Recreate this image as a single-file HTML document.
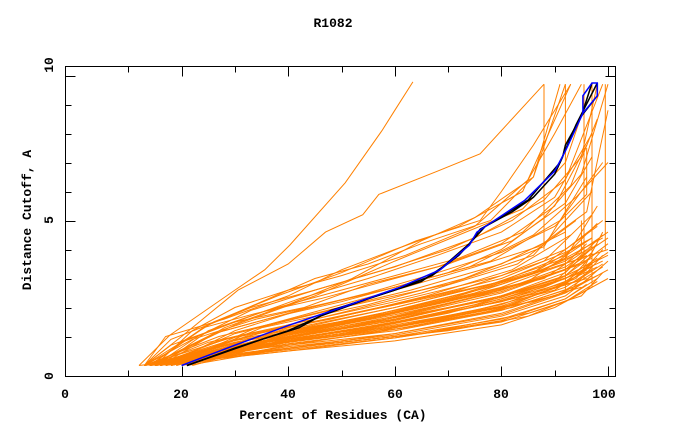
<!DOCTYPE html>
<html><head><meta charset="utf-8"><style>
html,body{margin:0;padding:0;background:#fff;}
svg{display:block;font-family:"Liberation Mono",monospace;font-weight:bold;}
</style></head><body>
<svg id="chart" width="680" height="440" viewBox="0 0 680 440" xmlns="http://www.w3.org/2000/svg">
<text x="333" y="27" font-size="13" text-anchor="middle">R1082</text>
<text x="333" y="419" font-size="13" text-anchor="middle">Percent of Residues (CA)</text>
<text transform="translate(31,220) rotate(-90)" font-size="13" text-anchor="middle">Distance Cutoff, A</text>
<g id="series"></g>
<rect x="65.5" y="66.5" width="550" height="310" fill="none" stroke="#000" stroke-width="1"/>
<g id="axes"></g>
</svg>
<script>
const xTickValues = [10,20,30,40,50,60,70,80,90,100];
const xTickLabels = ["0","20","40","60","80","100"];
const yTickValues = [1,2,3,4,5,6,7,8,9,10];
const yTickLabels = ["0","5","10"];
const orangeSeries = [
[14,0,40,0.5,60,0.85,80,1.4,90,2.0,97,2.7,97,3.6],
[15,0,40,0.6,60,1.0,80,1.6,92,2.3,98,3.0],
[13,0,35,0.6,60,1.1,80,1.8,93,2.6,99,3.8],
[16,0,30,0.5,55,1.1,75,1.9,90,2.6,96,3.3],
[14,0,30,0.6,50,1.1,70,1.8,88,2.7,97,3.4],
[17,0,35,0.8,55,1.3,75,2.1,90,2.9,98,4.2],
[13,0,30,0.7,50,1.3,70,2.0,85,2.6,95,3.2,99,4.6],
[18,0,40,1.0,60,1.6,80,2.4,92,3.1,97,3.9],
[15,0,30,0.8,50,1.4,70,2.2,88,3.0,96,4.0],
[20,0,40,1.0,60,1.7,80,2.6,95,3.5,100,4.2],
[14,0,28,0.8,45,1.3,65,2.0,85,2.9,97,4.4],
[22,0,40,0.9,60,1.5,80,2.2,94,2.9,99,3.5],
[16,0,30,0.9,50,1.5,70,2.3,86,3.2,98,4.8],
[13,0,30,1.0,50,1.7,68,2.4,85,3.1,95,3.9,95,5.0],
[19,0,35,0.9,55,1.6,75,2.5,90,3.4,100,4.0],
[15,0,28,0.9,48,1.6,66,2.4,82,3.3,93,4.5],
[17,0,32,1.0,52,1.8,72,2.6,88,3.6,97,5.2],
[14,0,25,0.8,45,1.6,65,2.5,83,3.5,94,5.0],
[21,0,40,1.2,60,2.0,78,2.8,92,3.7,98,5.5],
[13,0,27,1.0,45,1.8,63,2.6,80,3.5,92,4.6,92,6.0],
[16,0,30,1.1,50,2.0,70,2.8,86,3.8,97,6.0],
[18,0,35,1.3,55,2.1,73,3.0,88,4.1,96,6.5],
[14,0,26,1.1,42,1.9,60,2.7,78,3.6,91,5.0,99,7.0],
[12,0,30,0.4,50,0.8,70,1.2,85,1.7,93,2.3,100,3.0],
[15,0,45,0.7,65,1.1,85,1.8,95,2.4,99,3.2],
[17,0,40,0.8,62,1.3,82,2.0,95,2.8,100,3.6],
[13,0,32,0.7,52,1.2,72,1.9,87,2.5,96,3.0],
[20,0,38,0.8,58,1.4,77,2.1,91,2.8,98,3.4],
[16,0,34,0.8,54,1.4,74,2.3,89,3.1,97,3.7],
[14,0,30,0.8,52,1.5,72,2.4,88,3.3,99,4.4],
[15,0,36,0.7,56,1.2,76,1.8,90,2.4,98,3.1],
[18,0,42,0.9,62,1.4,82,2.1,94,3.0,99,4.0],
[13,0,28,0.6,48,1.0,68,1.6,86,2.2,95,2.7],
[16,0,38,0.9,58,1.5,78,2.3,91,3.0,100,3.8],
[14,0,33,0.9,53,1.6,73,2.5,87,3.3,96,4.3],
[14,0,40,0.55,60,0.95,80,1.5,92,2.2,98,2.9],
[15,0,40,0.65,60,1.05,80,1.7,92,2.4,97,3.1],
[16,0,40,0.75,60,1.2,80,1.9,92,2.6,99,3.4],
[13,0,40,0.8,60,1.3,80,2.0,92,2.8,96,3.6],
[17,0,40,0.85,60,1.35,80,2.1,92,2.9,100,3.9],
[18,0,40,0.9,60,1.45,80,2.3,92,3.0,98,3.7],
[14,0,40,0.95,60,1.55,80,2.4,92,3.2,97,4.1],
[15,0,40,1.05,60,1.65,80,2.5,92,3.3,99,4.5],
[19,0,40,1.1,60,1.8,80,2.7,92,3.5,96,4.2],
[16,0,40,1.15,60,1.9,80,2.8,92,3.6,100,4.6],
[13,0,40,1.25,60,2.0,80,2.9,92,3.8,98,4.9],
[17,0,40,1.3,60,2.1,80,3.0,92,3.9,97,4.4],
[14,0,40,1.4,60,2.2,80,3.1,92,4.0,99,5.0],
[20,0,40,0.7,60,1.25,80,1.95,92,2.7,97,3.3],
[21,0,40,0.6,60,1.1,80,1.75,92,2.5,100,3.3],
[15,0,40,0.5,60,0.95,80,1.55,92,2.3,96,2.8],
[16,0,40,0.9,60,1.5,80,2.2,92,3.0,99,3.6],
[13,0,40,1.0,60,1.6,80,2.35,92,3.1,98,3.9],
[18,0,40,1.2,60,1.85,80,2.6,92,3.4,100,4.4],
[14,0,40,0.8,60,1.4,80,2.05,92,2.8,97,3.5],
[17,0,40,1.05,60,1.75,80,2.55,92,3.3,96,3.8],
[13,0,18,0.9,25,1.4,33,2.0,45,2.6,60,3.4,75,4.4,88,5.7,95,7.2,98,9.7],
[14,0,20,0.8,30,1.5,42,2.3,55,3.0,68,3.8,80,4.6,90,5.8,97,8.0],
[13,0,17,1.0,28,1.6,40,2.4,50,3.3,60,4.0,72,4.8,84,6.0,93,9.7],
[15,0,22,1.2,30,2.0,40,2.6,50,3.1,62,3.8,75,4.8,85,6.4,90,8.0,95,9.7],
[13,0,20,1.0,30.6,2.6,40,3.5,47,4.6,54,5.2,57,5.9,68,6.7,76,7.3,88,9.7],
[14,0,25,1.4,35,2.2,45,3.0,55,3.5,65,4.2,78,5.0,86,6.5,92,9.7],
[15,0,23,1.0,33,1.9,45,2.6,58,3.3,70,4.0,82,5.0,92,6.4,99,9.7],
[13,0,18,0.7,30,1.5,43,2.0,55,2.8,68,3.4,80,4.2,90,5.5,96,7.6],
[16,0,25,1.2,36,1.9,48,2.5,60,3.1,72,3.7,84,4.6,93,6.2,98,8.5],
[14,0,24,1.3,34,1.8,46,2.3,58,2.9,70,3.5,82,4.3,92,5.6,97,7.2],
[13,0,22,0.9,34,1.6,46,2.1,58,2.6,70,3.2,80,4.0,88,5.1,95,6.6,100,9.7],
[15,0,26,1.1,38,1.7,50,2.2,62,2.8,74,3.4,86,4.5,94,5.8,100,7.0],
[12,0,17.8,1.05,30,2.6,35.6,3.3,40.3,4.15,50.7,6.3,57.6,8.1,60,8.8,63.4,9.78],
[14,0,30,1.4,45,2.4,60,3.6,72,4.5,84,5.4,92,7.0,97,9.7],
[16,0,28,1.3,40,2.1,52,3.0,65,4.3,75,5.1,86,6.5,91,9.7],
[13,0,26,1.5,38,2.4,50,3.2,64,4.3,76,5.0,80,6.0,86,7.6,93,9.7],
[17,0,30,1.2,42,1.9,55,2.5,68,3.2,80,3.9,90,4.8,96,5.9,96,7.5],
[18,0,34,1.3,48,2.0,62,2.7,75,3.4,87,4.1,96,5.3,100,8.8],
[88,4.0,88,9.7],
[92,2.5,92,9.7],
[95.5,3.0,95.5,9.7],
[97,2.7,97,9.7],
[99.5,4.0,99.5,9.7]
];
const blueSeries = [20,0,30,0.7,40.3,1.4,50,2.0,61,2.7,68.5,3.3,74,4.15,75.4,4.6,84.4,5.7,90,6.7,92,7.4,95.3,8.7,95.3,9.3,97,9.74,98,9.74,98,9.3,95.3,8.7];
const blackSeries = [
[21,0,30,0.6,40,1.2,46,1.7,55,2.3,65,2.9,69,3.4,74,4.2,76,4.7,82,5.3,86,5.8,90,6.6,91.5,7.2,92,7.6,95,8.6,97,9.74],
[21,0,35,0.9,42,1.3,48,1.9,60,2.6,67,3.1,72,3.8,77,4.8,85,5.7,91,7.0,94,8.3,98,9.74,98,9.3,95,8.6]
];
const NS = "http://www.w3.org/2000/svg";
function xScale(v){return 75 + 5.33*v;}
function yScale(v){return 365.5 - 29*v;}
function pts(arr){let s=[];for(let i=0;i<arr.length;i+=2)s.push(xScale(arr[i]).toFixed(1)+","+yScale(arr[i+1]).toFixed(1));return s.join(" ");}
const g = document.getElementById("series");
orangeSeries.forEach(function(arr){
  const p = document.createElementNS(NS,"polyline");
  p.setAttribute("points",pts(arr));
  p.setAttribute("fill","none");p.setAttribute("stroke","#ff8000");p.setAttribute("stroke-width","1");
  
  
  g.appendChild(p);
});
blackSeries.forEach(function(arr){
  const p = document.createElementNS(NS,"polyline");
  p.setAttribute("points",pts(arr));
  p.setAttribute("fill","none");p.setAttribute("stroke","#000");p.setAttribute("stroke-width","1.5");
  
  
  g.appendChild(p);
});
(function(){
  const p = document.createElementNS(NS,"polyline");
  p.setAttribute("points",pts(blueSeries));
  p.setAttribute("fill","none");p.setAttribute("stroke","#0000ff");p.setAttribute("stroke-width","1.5");
  
  
  g.appendChild(p);
})();
const ax = document.getElementById("axes");
function line(x1,y1,x2,y2,name){
  const l=document.createElementNS(NS,"line");
  l.setAttribute("x1",x1);l.setAttribute("y1",y1);l.setAttribute("x2",x2);l.setAttribute("y2",y2);
  l.setAttribute("stroke","#000");l.setAttribute("stroke-width","1");
  
  
  ax.appendChild(l);
}
xTickValues.forEach(function(v){
  const x=Math.round(xScale(v))+0.5;
  const len=(v%20===0)?10:6;
  line(x,376.5,x,376.5-len,'x-tick');
  line(x,66.5,x,66.5+len,'x-tick-top');
});
yTickValues.forEach(function(v){
  const y=Math.round(yScale(v))+0.5;
  const len=(v%5===0)?10:6;
  line(65.5,y,65.5+len,y,'y-tick');
  line(615.5,y,615.5-len,y,'y-tick-right');
});
const xLabelPos=[65,181,288,395,501,604];
xTickLabels.forEach(function(t,i){
  const tx=document.createElementNS(NS,"text");
  tx.setAttribute("x",xLabelPos[i]);tx.setAttribute("y",398);
  tx.setAttribute("font-size","13");tx.setAttribute("text-anchor","middle");
  tx.textContent=t;
  
  
  ax.appendChild(tx);
});
const yLabelPos=[376,220,65];
yTickLabels.forEach(function(t,i){
  const tx=document.createElementNS(NS,"text");
  tx.setAttribute("transform","translate(53,"+yLabelPos[i]+") rotate(-90)");
  tx.setAttribute("font-size","13");tx.setAttribute("text-anchor","middle");
  tx.textContent=t;
  
  
  ax.appendChild(tx);
});
</script>
</body></html>
